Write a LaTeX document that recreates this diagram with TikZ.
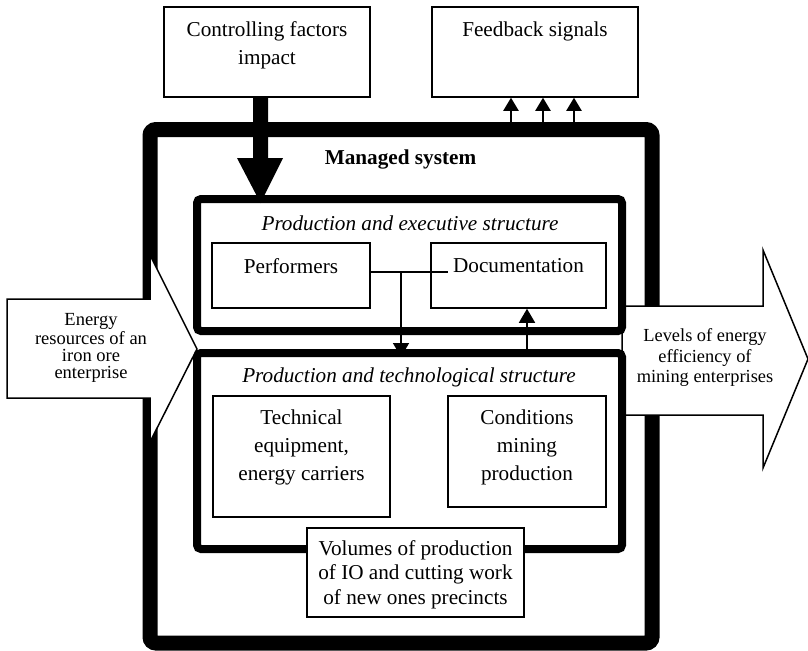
\documentclass[tikz,border=0pt]{standalone}
\usepackage{fontspec}
\setmainfont{Liberation Serif}
\usetikzlibrary{arrows.meta}
\begin{document}
\begin{tikzpicture}[x=0.5pt,y=-0.5pt,
  thinbox/.style={draw, line width=0.75pt, fill=white, inner sep=0pt},
  thickbox/.style={draw, line width=4pt, rounded corners=2pt, inner sep=0pt},
  outerbox/.style={draw, line width=7.5pt, rounded corners=3pt, inner sep=0pt},
  lbl/.style={inner sep=0pt, align=center, font=\fontsize{10.6pt}{14pt}\selectfont},
  smalllbl/.style={inner sep=0pt, align=center},
  blockarrow/.style={draw, line width=0.75pt, fill=white, line join=miter},
  conn/.style={line width=0.8pt, -{Triangle[width=8pt,length=7pt]}},
  fbconn/.style={line width=1pt, -{Triangle[width=7.5pt,length=6.5pt]}},
]
\useasboundingbox (0,0) rectangle (808,650);

% top boxes
\node[thinbox, minimum width=103pt, minimum height=45pt] (ctrl) at (267,52) {};
\node[lbl] (ctrlt) at (267,45) {Controlling factors\\impact};
\node[thinbox, minimum width=103pt, minimum height=45pt] (fb) at (535,52) {};
\node[lbl] (fbt) at (535,31) {Feedback signals};

% outer managed system
\node[outerbox, minimum width=251pt, minimum height=256.75pt] (outer) at (401,386.25) {};
\node[lbl, font=\fontsize{10.6pt}{14pt}\selectfont\bfseries] (mst) at (400.5,159) {Managed system};

% left block arrow
\draw[blockarrow] (7,299) -- (150,299) -- (150,255) -- (197,349) -- (150,442) -- (150,398) -- (7,398) -- cycle;
\node[smalllbl, font=\fontsize{9.25pt}{8.35pt}\selectfont] (ener) at (91,348) {Energy\\resources of an\\iron ore\\enterprise};

% right block arrow
\draw[blockarrow] (622,306) -- (763,306) -- (763,250) -- (808,359) -- (763,468) -- (763,415) -- (622,415) -- cycle;
\node[smalllbl, font=\fontsize{9.2pt}{10.25pt}\selectfont] (levl) at (705,357.5) {Levels of energy\\efficiency of\\mining enterprises};

% structures
\node[thickbox, minimum width=212.5pt, minimum height=66pt] (pes) at (409.5,265) {};
\node[lbl, font=\fontsize{10.6pt}{14pt}\selectfont\itshape] (pest) at (410,223) {Production and executive structure};
\node[thickbox, minimum width=212.5pt, minimum height=98pt] (pts) at (409.5,451) {};
\node[lbl, font=\fontsize{10.6pt}{14pt}\selectfont\itshape] (ptst) at (409,377) {Production and technological structure};

% inner boxes
\node[thinbox, minimum width=79pt, minimum height=32.5pt] (perf) at (291,275.5) {};
\node[lbl] (perft) at (291,266) {Performers};
\node[thinbox, minimum width=87.5pt, minimum height=32.5pt] (doc) at (518.5,275.5) {};
\node[lbl] (doct) at (518.5,266) {Documentation};
\node[thinbox, minimum width=88.5pt, minimum height=60.5pt] (tech) at (301.5,456.5) {};
\node[lbl] (techt) at (301.5,447) {Technical\\equipment,\\energy carriers};
\node[thinbox, minimum width=79pt, minimum height=55.5pt] (cond) at (527,451.5) {};
\node[lbl] (condt) at (527,447) {Conditions\\mining\\production};
\node[thinbox, minimum width=108.5pt, minimum height=44.5pt] (vol) at (415.5,572.5) {};
\node[lbl, font=\fontsize{10.6pt}{12.25pt}\selectfont] (volt) at (415.5,574.5) {Volumes of production\\of IO and cutting work\\of new ones precincts};

% connectors
\coordinate (j1) at (401,272);
\coordinate (docin) at (448,272);
\coordinate (t1) at (401,357);
\draw[line width=0.8pt] (perf.east |- j1) -- (docin);
\draw[conn] (j1) -- (t1);
\coordinate (u1) at (527,353);
\draw[conn] (u1) -- (u1 |- doc.south);

\coordinate (fa1) at (511,122);
\coordinate (fa2) at (543,122);
\coordinate (fa3) at (574,122);
\draw[fbconn] (fa1) -- (fa1 |- fb.south);
\draw[fbconn] (fa2) -- (fa2 |- fb.south);
\draw[fbconn] (fa3) -- (fa3 |- fb.south);

% controlling impact arrow
\fill (253,97) -- (268,97) -- (268,158) -- (283,158) -- (260.5,203) -- (237,158) -- (253,158) -- cycle;
\end{tikzpicture}
\end{document}
